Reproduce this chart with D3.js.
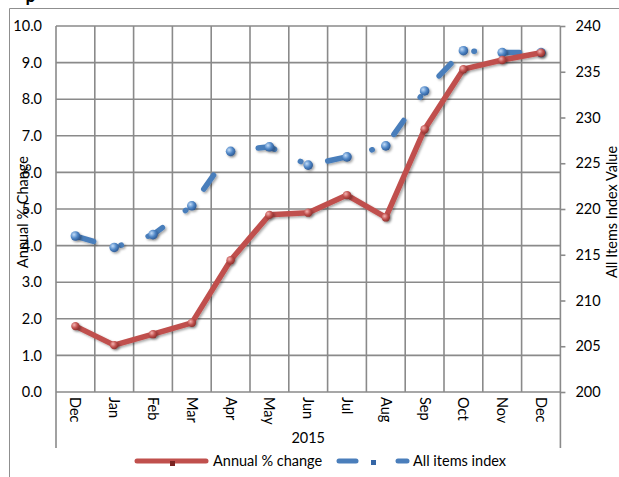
<!DOCTYPE html>
<html><head><meta charset="utf-8">
<script src="https://cdn.jsdelivr.net/npm/d3@7/dist/d3.min.js"></script>
<style>
html,body{margin:0;padding:0;background:#fff;}
svg{display:block;font-family:Lato,"Open Sans",sans-serif;}
</style></head>
<body><div id="chart"></div>
<script>
const months = ["Dec","Jan","Feb","Mar","Apr","May","Jun","Jul","Aug","Sep","Oct","Nov","Dec"];
const annualChange = [1.80, 1.28, 1.58, 1.89, 3.60, 4.84, 4.90, 5.38, 4.77, 7.18, 8.82, 9.07, 9.27];
const allItemsIndex = [217.05, 215.8, 217.2, 220.35, 226.3, 226.8, 224.8, 225.7, 226.9, 232.9, 237.3, 237.1, 237.1];
const leftTicks = [0,1,2,3,4,5,6,7,8,9,10];
const rightTicks = [200,205,210,215,220,225,230,235,240];
const groupLabel = "2015";
const seriesNames = ["Annual % change","All items index"];
const axisTitles = ["Annual % Change","All Items Index Value"];

const W = 619, H = 477, FS = 14.5;
const svg = d3.select("#chart").append("svg").attr("width", W).attr("height", H);
const defs = svg.append("defs");

function grad(id, c1, c2, c3){
  const g = defs.append("radialGradient").attr("id", id).attr("cx","35%").attr("cy","35%").attr("r","70%");
  g.append("stop").attr("offset","0%").attr("stop-color", c1);
  g.append("stop").attr("offset","55%").attr("stop-color", c2);
  g.append("stop").attr("offset","100%").attr("stop-color", c3);
}
grad("gRed", "#f4b3b1", "#c0504d", "#8a2e2b");
grad("gBlue", "#c2dcf8", "#4f86c6", "#2c5791");
const f = defs.append("filter").attr("id","shadow").attr("x","-50%").attr("y","-50%").attr("width","220%").attr("height","220%");
f.append("feDropShadow").attr("dx",1.5).attr("dy",1.5).attr("stdDeviation",1.2).attr("flood-color","#000").attr("flood-opacity",0.35);

const x = d3.scaleBand().domain(d3.range(months.length)).range([56, 560.4]).padding(0);
const yL = d3.scaleLinear().domain([0,10]).range([392,26]);
const yR = d3.scaleLinear().domain([200,240]).range([392,26]);
const cx = i => x(i) + x.bandwidth()/2;

// outer chart frame (partially visible)
svg.append("path").attr("d", `M9.5,${H+2} L9.5,8.5 L${W+2},8.5`).attr("fill","none").attr("stroke","#8f8f8f").attr("stroke-width",1);
// clipped title fragment
svg.append("text").attr("x", 25.5).attr("y", 1.5).attr("font-size", 18).attr("font-weight","bold").attr("fill","#000").text("p");

const grid = svg.append("g").attr("stroke","#8a8a8a").attr("stroke-width",1.6);
leftTicks.forEach(t => grid.append("line").attr("x1",56).attr("x2",560.4).attr("y1",yL(t)).attr("y2",yL(t)));
d3.range(months.length+1).forEach(k => {
  const xv = k < months.length ? x(k) : x.range()[1];
  grid.append("line").attr("x1",xv).attr("x2",xv).attr("y1",yL(10)).attr("y2",yL(0));
});
// category group separators
[56, 560.4].forEach(xv => svg.append("line").attr("x1",xv).attr("x2",xv).attr("y1",392).attr("y2",448).attr("stroke","#8a8a8a").attr("stroke-width",1.6));

// left axis
const la = svg.append("g").attr("transform","translate(56,0)")
  .call(d3.axisLeft(yL).tickValues(leftTicks).tickSize(0).tickPadding(14).tickFormat(d3.format(".1f")));
la.select(".domain").remove();
la.selectAll("text").attr("font-size",FS).attr("fill","#000").attr("font-family","Lato");

// right axis
const ra = svg.append("g").attr("transform","translate(560.4,0)")
  .call(d3.axisRight(yR).tickValues(rightTicks).tickSize(5).tickPadding(10));
ra.select(".domain").remove();
ra.selectAll("line").attr("stroke","#8a8a8a").attr("stroke-width",1.6);
ra.selectAll("text").attr("font-size",FS).attr("fill","#000").attr("font-family","Lato");

// month labels
svg.append("g").selectAll("text").data(months).join("text")
  .attr("transform",(d,i)=>`translate(${cx(i)},397) rotate(90)`)
  .attr("dy","0.35em").attr("font-size",FS).attr("fill","#000").text(d=>d);
svg.append("text").attr("x",(56+560.4)/2).attr("y",443).attr("text-anchor","middle").attr("font-size",FS).text(groupLabel);

// axis titles
svg.append("text").attr("transform","translate(28,212) rotate(-90)").attr("text-anchor","middle").attr("font-size",FS).text(axisTitles[0]);
svg.append("text").attr("transform","translate(617,212) rotate(-90)").attr("text-anchor","middle").attr("font-size",FS).text(axisTitles[1]);

// blue series
const lineB = d3.line().x((d,i)=>cx(i)).y(d=>yR(d));
svg.append("path").datum(allItemsIndex).attr("d", lineB).attr("fill","none")
  .attr("stroke","#4a7ebb").attr("stroke-width",5.5).attr("stroke-linecap","round").attr("stroke-linejoin","round")
  .attr("stroke-dasharray","17 28.5 0.5 28.1").attr("stroke-dashoffset",72.1).attr("filter","url(#shadow)");
svg.append("g").selectAll("circle").data(allItemsIndex).join("circle")
  .attr("cx",(d,i)=>cx(i)).attr("cy",d=>yR(d)).attr("r",4.8).attr("fill","url(#gBlue)").attr("filter","url(#shadow)");

// red series
const lineR = d3.line().x((d,i)=>cx(i)).y(d=>yL(d));
svg.append("path").datum(annualChange).attr("d", lineR).attr("fill","none")
  .attr("stroke","#c0504d").attr("stroke-width",5.5).attr("stroke-linejoin","round").attr("stroke-linecap","round").attr("filter","url(#shadow)");
svg.append("g").selectAll("circle").data(annualChange).join("circle")
  .attr("cx",(d,i)=>cx(i)).attr("cy",d=>yL(d)).attr("r",4.2).attr("fill","url(#gRed)").attr("filter","url(#shadow)");

// legend
const lg = svg.append("g");
lg.append("line").attr("x1",137).attr("x2",206).attr("y1",461).attr("y2",461).attr("stroke","#c0504d").attr("stroke-width",5).attr("stroke-linecap","round");
lg.append("rect").attr("x",170).attr("y",461).attr("width",5).attr("height",5).attr("fill","#7a2422");
lg.append("text").attr("x",213).attr("y",466).attr("font-size",FS).text(seriesNames[0]);
lg.append("line").attr("x1",339).attr("x2",356).attr("y1",461).attr("y2",461).attr("stroke","#4a7ebb").attr("stroke-width",5).attr("stroke-linecap","round");
lg.append("rect").attr("x",371).attr("y",460).attr("width",5).attr("height",5).attr("fill","#3566a6");
lg.append("line").attr("x1",398).attr("x2",407).attr("y1",461).attr("y2",461).attr("stroke","#4a7ebb").attr("stroke-width",5).attr("stroke-linecap","round");
lg.append("text").attr("x",413).attr("y",466).attr("font-size",FS).text(seriesNames[1]);
</script></body></html>
